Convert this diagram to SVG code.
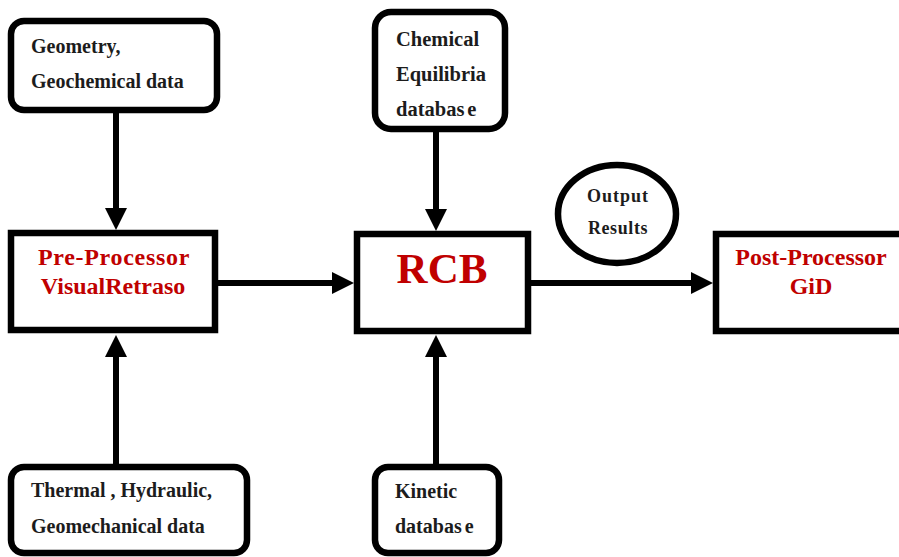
<svg xmlns="http://www.w3.org/2000/svg" width="899" height="557" viewBox="0 0 899 557">
<style>
.box{fill:#fff;stroke:#000;stroke-width:6.5}
.t{font-family:"Liberation Serif","Times New Roman",serif;font-weight:bold;font-size:20px;fill:#1c1c1c}
.r{font-family:"Liberation Serif","Times New Roman",serif;font-weight:bold;font-size:24px;fill:#c00000;text-anchor:middle}
.c{stroke:#000;stroke-width:6;fill:none}
</style>
<defs>
<marker id="ah" markerUnits="userSpaceOnUse" markerWidth="22" markerHeight="22" viewBox="0 0 22 22" refX="2" refY="11" orient="auto">
<path d="M0,0 L22,11 L0,22 z" fill="#000"/>
</marker>
</defs>
<g id="connectors">
<line class="c" x1="116" y1="112" x2="116" y2="210" marker-end="url(#ah)"/>
<line class="c" x1="436" y1="131" x2="436" y2="211" marker-end="url(#ah)"/>
<line class="c" x1="218" y1="283" x2="334" y2="283" marker-end="url(#ah)"/>
<line class="c" x1="531" y1="283" x2="693" y2="283" marker-end="url(#ah)"/>
<line class="c" x1="116" y1="465" x2="116" y2="355" marker-end="url(#ah)"/>
<line class="c" x1="436" y1="465" x2="436" y2="355" marker-end="url(#ah)"/>
</g>
<g id="geometry">
<rect class="box" x="11" y="21" width="206" height="89" rx="13"/>
<text class="t" x="31" y="53">Geometry,</text>
<text class="t" x="31" y="88">Geochemical data</text>
</g>
<g id="chemical">
<rect class="box" x="375" y="12" width="130" height="117" rx="16"/>
<text class="t" x="396" y="46" style="font-size:20.5px">Chemical</text>
<text class="t" x="396" y="81" style="font-size:20.5px">Equilibria</text>
<text class="t" x="396" y="116" style="font-size:20.5px">databas<tspan dx="3">e</tspan></text>
</g>
<g id="preprocessor">
<rect class="box" x="11" y="233" width="204" height="97"/>
<text class="r" x="114" y="265" style="letter-spacing:0.7px">Pre-Processor</text>
<text class="r" x="113" y="294">VisualRetraso</text>
</g>
<g id="rcb">
<rect class="box" x="357" y="234" width="171" height="97"/>
<text class="r" x="442" y="283" style="font-size:43px">RCB</text>
</g>
<g id="output">
<ellipse cx="617" cy="214" rx="59" ry="49" fill="#fff" stroke="#000" stroke-width="6.5"/>
<text class="t" x="618" y="202" text-anchor="middle" style="font-size:18px;letter-spacing:1px">Output</text>
<text class="t" x="618" y="234" text-anchor="middle" style="font-size:18px;letter-spacing:0.6px">Results</text>
</g>
<g id="postprocessor">
<rect class="box" x="716" y="234" width="195" height="97"/>
<text class="r" x="811" y="265">Post-Processor</text>
<text class="r" x="811" y="294">GiD</text>
</g>
<g id="thermal">
<rect class="box" x="11" y="467" width="236" height="86" rx="13"/>
<text class="t" x="31" y="497">Thermal , Hydraulic,</text>
<text class="t" x="31" y="533">Geomechanical data</text>
</g>
<g id="kinetic">
<rect class="box" x="375" y="467" width="124" height="86" rx="13"/>
<text class="t" x="395" y="498">Kinetic</text>
<text class="t" x="395" y="533">databas<tspan dx="3">e</tspan></text>
</g>
</svg>
